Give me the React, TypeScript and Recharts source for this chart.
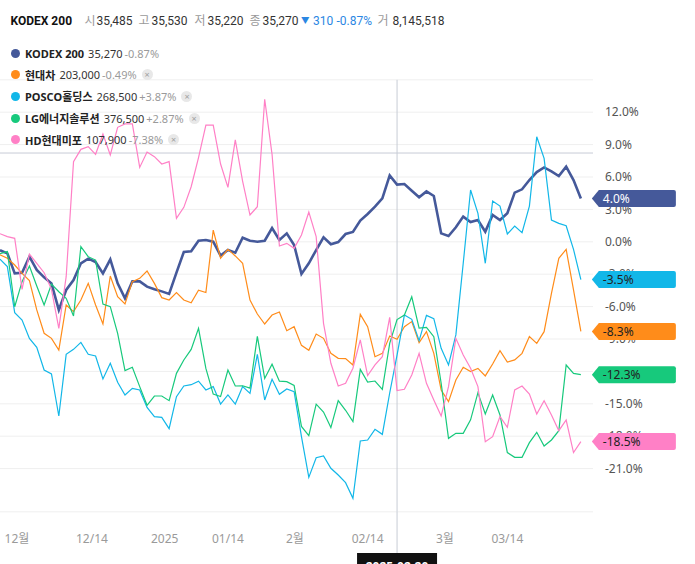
import React from 'react';
import { LineChart, Line, XAxis, YAxis, CartesianGrid, ReferenceLine } from 'recharts';

const FONT = "'Noto Sans', 'Noto Sans CJK KR', sans-serif";
const FONT_HEAD = "Roboto, 'Noto Sans CJK KR', sans-serif";

// trading days, 2024-11-27 .. 2025-03-28
const dates = [
  '2024-11-27', '2024-11-28', '2024-11-29',
  '2024-12-02', '2024-12-03', '2024-12-04', '2024-12-05', '2024-12-06',
  '2024-12-09', '2024-12-10', '2024-12-11', '2024-12-12', '2024-12-13',
  '2024-12-16', '2024-12-17', '2024-12-18', '2024-12-19', '2024-12-20',
  '2024-12-23', '2024-12-24', '2024-12-26', '2024-12-27', '2024-12-30',
  '2025-01-02', '2025-01-03', '2025-01-06', '2025-01-07', '2025-01-08',
  '2025-01-09', '2025-01-10', '2025-01-13', '2025-01-14', '2025-01-15',
  '2025-01-16', '2025-01-17', '2025-01-20', '2025-01-21', '2025-01-22',
  '2025-01-23', '2025-01-24', '2025-01-31',
  '2025-02-03', '2025-02-04', '2025-02-05', '2025-02-06', '2025-02-07',
  '2025-02-10', '2025-02-11', '2025-02-12', '2025-02-13', '2025-02-14',
  '2025-02-17', '2025-02-18', '2025-02-19', '2025-02-20', '2025-02-21',
  '2025-02-24', '2025-02-25', '2025-02-26', '2025-02-27', '2025-02-28',
  '2025-03-04', '2025-03-05', '2025-03-06', '2025-03-07',
  '2025-03-10', '2025-03-11', '2025-03-12', '2025-03-13', '2025-03-14',
  '2025-03-17', '2025-03-18', '2025-03-19', '2025-03-20', '2025-03-21',
  '2025-03-24', '2025-03-25', '2025-03-26', '2025-03-27', '2025-03-28',
];

// % change series
const kodex = [
  -0.78, -1.07, -2.92, -2.86, -1.38, -2.61, -3.29, -3.85, -6.31, -4.46,
  -3.54, -1.99, -1.56, -1.87, -2.92, -1.62, -3.85, -5.23, -3.66, -3.66,
  -4.15, -4.4, -4.59, -4.83, -2.86, -0.94, -0.88, 0.1, 0.17, 0.01,
  -1.28, -0.76, -1.01, 0.38, 0.1, 0.01, 0.1, 1.28, 0.17, 0.78,
  -0.3, -2.98, -1.99, -0.76, 0.41, -0.23, -0.02, 0.72, 0.91, 1.96,
  2.57, 3.25, 4.02, 6.15, 5.29, 5.35, 4.73, 4.12, 4.67, 4.24,
  0.78, 0.54, 1.34, 2.33, 1.83, 2.02, 0.94, 2.48, 2.02, 2.64,
  4.55, 4.86, 5.72, 6.46, 6.89, 6.52, 6.09, 6.96, 5.72, 4.0,
];
const hyundai = [
  -1.2, -1.53, -2.15, -2.92, -3.6, -6.31, -8.47, -8.94, -10.02, -5.85,
  -6.47, -5.39, -3.85, -5.85, -7.61, -3.17, -5.08, -5.76, -3.69, -3.38,
  -2.7, -3.85, -5.17, -5.39, -4.71, -5.39, -5.64, -4.49, -4.69, 1.09,
  -1.53, -0.7, -1.31, -1.99, -5.39, -6.69, -7.61, -6.78, -6.5, -8.23,
  -7.86, -9.59, -10.05, -8.54, -8.94, -10.33, -10.79, -10.82, -11.41, -6.72,
  -7.86, -10.64, -10.33, -8.72, -9.03, -7.86, -7.39, -9.34, -8.32, -10.33,
  -13.72, -14.8, -12.8, -11.62, -12.02, -11.72, -12.42, -11.31, -10.08, -11.13,
  -10.94, -10.33, -8.78, -9.4, -8.32, -4.77, -1.53, -0.7, -4.46, -8.3,
];
const posco = [
  -1.6, -2.3, -6.56, -7.24, -8.94, -9.77, -11.87, -12.24, -16.13, -10.42,
  -9.96, -9.31, -10.42, -10.57, -12.7, -11.25, -13.01, -14.18, -13.57, -13.72,
  -15.33, -16.19, -16.25, -17.3, -14.34, -13.35, -13.23, -12.9, -13.72, -13.41,
  -15.02, -14.18, -15.02, -13.41, -14.03, -10.42, -14.65, -12.73, -14.12, -13.62,
  -13.87, -18.04, -21.81, -19.99, -19.83, -20.97, -21.59, -22.3, -23.75, -18.44,
  -18.35, -17.36, -17.83, -14.0, -10.5, -6.78, -7.18, -9.15, -6.81, -7.12,
  -9.86, -11.4, -8.62, -1.99, 4.8, 2.64, -1.99, 3.78, 3.31, 0.72,
  1.46, 0.85, 3.31, 9.73, 7.73, 2.02, 1.71, 1.49, -0.7, -3.5,
];
const lgEnergy = [
  -1.1, -0.91, -6.01, -3.69, -2.24, -4.09, -5.85, -3.91, -4.62, -5.23,
  -6.87, -0.45, -1.38, -1.69, -5.76, -6.01, -8.48, -11.93, -11.62, -13.41,
  -15.14, -14.28, -14.28, -14.71, -12.18, -10.94, -9.96, -8.01, -11.72, -14.1,
  -14.33, -11.87, -13.35, -13.33, -13.55, -8.75, -12.65, -11.33, -12.9, -12.95,
  -13.3, -17.1, -17.95, -15.03, -15.76, -17.2, -14.71, -15.6, -16.65, -11.81,
  -12.98, -12.89, -13.66, -9.4, -7.2, -6.78, -5.09, -8.0, -7.92, -8.78,
  -13.1, -18.2, -17.73, -17.73, -16.49, -13.97, -15.94, -14.18, -16.03, -19.52,
  -19.96, -19.96, -18.6, -17.64, -18.91, -18.35, -17.49, -11.41, -12.18, -12.3,
];
const hdMipo = [
  0.75, 0.48, 0.32, -4.4, -1.13, -1.99, -2.86, -4.4, -8.01, -3.23,
  7.42, 8.56, 8.81, 8.1, 9.98, 8.04, 10.6, 10.91, 10.91, 6.89,
  8.31, 7.88, 7.2, 7.42, 2.17, 3.19, 5.1, 7.8, 10.81, 10.81,
  7.2, 5.04, 9.43, 5.6, 2.48, 3.25, 13.2, 8.1, -0.39, -0.14,
  -0.6, 0.63, 2.75, 0.48, -7.55, -11.25, -13.35, -13.1, -11.71, -9.09,
  -12.39, -11.4, -10.64, -6.99, -13.78, -13.66, -12.33, -10.33, -13.1, -14.65,
  -16.13, -13.41, -8.94, -10.48, -11.71, -13.41, -18.51, -18.04, -16.19, -17.18,
  -13.72, -13.35, -14.09, -15.94, -14.71, -16.03, -17.49, -16.5, -19.52, -18.5,
];

const yTicks = [12, 9, 6, 3, 0, -3, -6, -9, -12, -15, -18, -21];
const xTickPos = [2.3, 12.5, 22.4, 31, 40.1, 50, 60.5, 69];
const xTickLabels = ['12월', '12/14', '2025', '01/14', '2월', '02/14', '3월', '03/14'];

// header strip: text, left edge, colour
const headerItems: [string, number, string][] = [
  ['시', 84.5, '#9a9a9a'], ['35,485', 96.5, '#333'],
  ['고', 138.5, '#9a9a9a'], ['35,530', 151.5, '#333'],
  ['저', 194.5, '#9a9a9a'], ['35,220', 207.5, '#333'],
  ['종', 249.5, '#9a9a9a'], ['35,270', 262.5, '#333'],
  ['310', 313, '#2b87e3'], ['-0.87%', 336.5, '#2b87e3'],
  ['거', 377.5, '#9a9a9a'], ['8,145,518', 392.5, '#333'],
];

const series = [
  { key: 'kodex', values: kodex, name: 'KODEX 200', price: '35,270', change: '-0.87%', color: '#45599a', badgeText: '#fff', width: 2.6, removable: false },
  { key: 'hyundai', values: hyundai, name: '현대차', price: '203,000', change: '-0.49%', color: '#ff8c1a', badgeText: '#222', width: 1.2, removable: true },
  { key: 'posco', values: posco, name: 'POSCO홀딩스', price: '268,500', change: '+3.87%', color: '#12b7e8', badgeText: '#222', width: 1.2, removable: true },
  { key: 'lg', values: lgEnergy, name: 'LG에너지솔루션', price: '376,500', change: '+2.87%', color: '#17c97c', badgeText: '#222', width: 1.2, removable: true },
  { key: 'hd', values: hdMipo, name: 'HD현대미포', price: '107,900', change: '-7.38%', color: '#ff80c6', badgeText: '#222', width: 1.2, removable: true },
];

const hoverDate = '2025-02-20';
const hoverValue = 8.22;

const data = dates.map((date, i) => ({
  i,
  date,
  kodex: kodex[i],
  hyundai: hyundai[i],
  posco: posco[i],
  lg: lgEnergy[i],
  hd: hdMipo[i],
}));

const last = dates.length - 1;

const EndBadge = ({ cx, cy, fill, textColor, value }: any) => {
  const tip = cx + 11;
  const body = tip + 7;
  const right = tip + 84;
  const h = 8.5;
  const d = `M${tip},${cy} L${body},${cy - h} L${right - 2},${cy - h} Q${right},${cy - h} ${right},${cy - h + 2} L${right},${cy + h - 2} Q${right},${cy + h} ${right - 2},${cy + h} L${body},${cy + h} Z`;
  return (
    <g>
      <path d={d} fill={fill} />
      <text x={tip + 11} y={cy} dy="0.36em" fontSize={12} fill={textColor} fontFamily={FONT}>
        {value.toFixed(1)}%
      </text>
    </g>
  );
};

const badgeLabel = (s: any) => (props: any) => {
  if (props.index !== last) return null;
  const vb = props.viewBox || {};
  const x = vb.x ?? props.x;
  const y = vb.y ?? props.y;
  return <EndBadge cx={x} cy={y} fill={s.color} textColor={s.badgeText} value={s.values[last]} />;
};

const HoverLabel = (props: any) => {
  const vb = props.viewBox || {};
  const x = vb.x;
  const bottom = vb.y + vb.height;
  return (
    <g>
      <line x1={x} x2={x} y1={bottom} y2={553} stroke="#c7ccd6" strokeWidth={1} />
      <rect x={x - 40} y={553} width={80} height={24} fill="#111" />
      <text x={x} y={571} textAnchor="middle" fontSize={12} fontWeight={700} fill="#fff" fontFamily={FONT}>
        {hoverDate}
      </text>
    </g>
  );
};

export default function App() {
  return (
    <div style={{ position: 'absolute', left: 0, top: 0, width: 695, height: 564, background: '#fff', fontFamily: FONT, overflow: 'hidden' }}>
      <LineChart
        width={695}
        height={564}
        data={data}
        margin={{ top: 79.8, right: 0, bottom: 0, left: 0 }}
        style={{ fontFamily: FONT }}
      >
        <CartesianGrid vertical={false} stroke="#efefef" />
        <XAxis
          dataKey="i"
          type="number"
          domain={[0, 80.65]}
          ticks={xTickPos}
          tickFormatter={(v: number) => xTickLabels[xTickPos.indexOf(v)] ?? ''}
          axisLine={false}
          tickLine={false}
          tickMargin={17}
          height={52.2}
          interval={0}
          tick={{ fill: '#9a9a9a', fontSize: 12 }}
        />
        <YAxis
          orientation="right"
          width={102}
          domain={[-25, 15]}
          ticks={yTicks}
          interval={0}
          tickFormatter={(v: number) => `${v.toFixed(1)}%`}
          axisLine={false}
          tickLine={false}
          tickMargin={6}
          tick={{ fill: '#555', fontSize: 12, textAnchor: 'start' }}
        />
        <ReferenceLine y={hoverValue} stroke="#c7ccd6" strokeWidth={1} />
        <ReferenceLine x={dates.indexOf(hoverDate)} stroke="#c7ccd6" strokeWidth={1} label={HoverLabel} />
        {series.map((s) => (
          <Line
            key={s.key}
            dataKey={s.key}
            type="linear"
            stroke={s.color}
            strokeWidth={s.width}
            isAnimationActive={false}
            activeDot={false}
            dot={false}
            label={badgeLabel(s)}
          />
        ))}
      </LineChart>

      {/* header */}
      <div style={{ position: 'absolute', left: 0, top: 11, height: 20, width: 460, fontFamily: FONT_HEAD, fontSize: 12, lineHeight: '20px', whiteSpace: 'nowrap', pointerEvents: 'none' }}>
        <span style={{ position: 'absolute', left: 10.5, fontWeight: 700, color: '#111' }}>KODEX 200</span>
        {headerItems.map(([text, left, color]) => (
          <span key={`${text}-${left}`} style={{ position: 'absolute', left, color }}>{text}</span>
        ))}
        <span style={{ position: 'absolute', left: 301, top: -1, fontSize: 8.5, color: '#2b87e3' }}>▼</span>
      </div>

      {/* legend */}
      <div style={{ position: 'absolute', left: 11, top: 42.2, fontSize: 11, pointerEvents: 'none' }}>
        {series.map((s) => (
          <div key={s.key} style={{ display: 'flex', alignItems: 'center', height: 21.7, whiteSpace: 'nowrap' }}>
            <span style={{ width: 9, height: 9, borderRadius: '50%', background: s.color, marginRight: 5, flex: 'none' }} />
            <span style={{ fontWeight: 700, color: '#222' }}>{s.name}</span>
            <span style={{ marginLeft: 4, color: '#333' }}>{s.price}</span>
            <span style={{ marginLeft: 2, color: '#9a9a9a' }}>{s.change}</span>
            {s.removable && (
              <span style={{ marginLeft: 5, width: 11, height: 11, borderRadius: '50%', background: '#e8e8e8', color: '#a0a0a0', fontSize: 9, lineHeight: '11px', textAlign: 'center', flex: 'none' }}>×</span>
            )}
          </div>
        ))}
      </div>
    </div>
  );
}
